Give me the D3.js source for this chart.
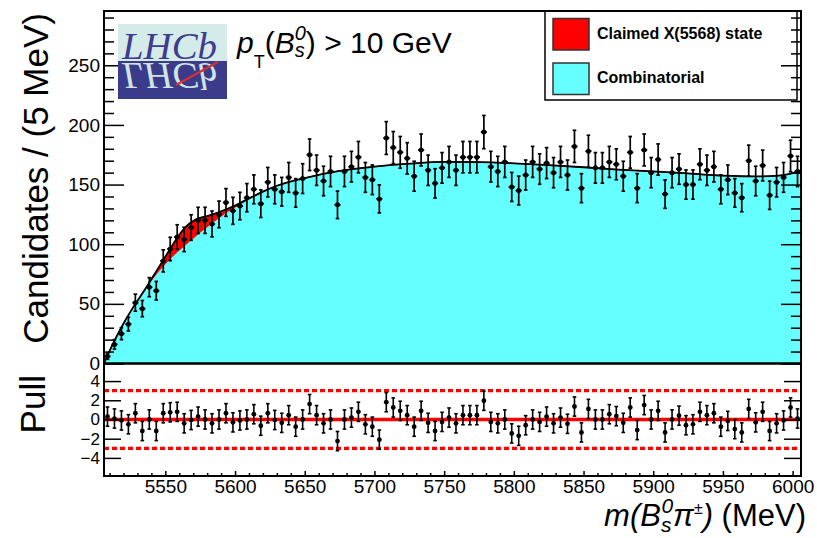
<!DOCTYPE html>
<html>
<head>
<meta charset="utf-8">
<script src="https://cdn.jsdelivr.net/npm/d3@7"></script>
<style>
html, body { margin: 0; padding: 0; background: #fff; }
svg { display: block; font-family: "Liberation Sans", Arial, Helvetica, sans-serif; }
</style>
</head>
<body>
<svg id="chart" width="817" height="538"></svg>
<script>
// Histogram binning of m(Bs pi): 100 bins of 5 MeV
const binLow = 5506;
const binWidth = 5;

// Candidates per 5 MeV bin
const counts = [
  6, 16, 25, 33, 51, 46, 64, 61, 86, 96,
  106, 104, 114, 120, 120, 117, 125, 135, 128, 132,
  139, 146, 134, 152, 146, 144, 156, 143, 155, 175,
  162, 153, 161, 133, 161, 165, 173, 156, 154, 138,
  189, 181, 177, 172, 157, 179, 162, 151, 164, 169,
  162, 173, 173, 173, 194, 165, 161, 169, 148, 145,
  158, 169, 163, 168, 160, 169, 158, 182, 147, 178,
  164, 164, 169, 167, 157, 177, 147, 179, 160, 171,
  142, 160, 163, 150, 150, 167, 162, 165, 146, 154,
  143, 139, 170, 153, 166, 141, 152, 156, 174, 161
];

// Pull of each bin with respect to the fit
const pulls = [
  0.3, 0.1, -0.1, -0.5, 0.65, -1.2, 0, -1.2, 0.65, 0.75,
  0.8, -0.4, -0.05, 0.3, 0, -0.4, 0, 0.65, -0.3, -0.1,
  0, 0.55, -0.65, 0.65, -0.05, -0.35, 0.45, -0.75, 0, 1.6,
  0.45, -0.4, 0, -2.25, 0, 0.2, 0.8, -0.5, -0.75, -2.1,
  1.8, 1.25, 0.9, 0.45, -0.75, 0.9, -0.35, -1.2, -0.25, 0.2,
  -0.4, 0.45, 0.45, 0.45, 1.95, -0.25, -0.4, 0, -1.45, -1.7,
  -0.6, 0, -0.25, 0.3, -0.4, 0.2, -0.45, 1.35, -1.35, 1.1,
  0, 0, 0.55, 0.35, -0.35, 1.25, -1.1, 1.5, 0, 0.9,
  -1.35, 0, 0.4, -0.6, -0.5, 0.8, 0.45, 0.65, -0.75, -0.15,
  -1.0, -1.35, 1.1, -0.3, 0.8, -1.2, -0.4, -0.1, 1.25, 0.1
];

// Fit components sampled in mass (MeV)
const fitMass = [5506, 5510, 5515, 5520, 5525, 5530, 5535, 5540, 5545, 5550,
  5555, 5560, 5565, 5570, 5575, 5580, 5585, 5590, 5595, 5600,
  5610, 5620, 5630, 5650, 5675, 5700, 5725, 5750, 5775, 5800,
  5825, 5850, 5875, 5900, 5925, 5950, 5975, 5990, 6000, 6006];
const combinatorial = [0, 10.5, 22.5, 33.5, 43.5, 52.5, 61, 69.5, 77, 83.5,
  89.5, 95, 100, 105, 110, 114.5, 119, 123.5, 127.5, 131,
  138, 144, 149, 155.5, 161.5, 165, 167.5, 169, 168.8, 167.8,
  166.3, 164.5, 162.5, 161, 159.3, 157.5, 156.8, 157.5, 159.5, 162];
const claimedX = [0, 0, 0, 0, 0, 0, 0.4, 1.3, 3, 6,
  9.5, 13, 15, 14.5, 12, 9, 6.5, 4, 2.3, 1.3,
  0.4, 0.1, 0, 0, 0, 0, 0, 0, 0, 0,
  0, 0, 0, 0, 0, 0, 0, 0, 0, 0];

// Axis ticks
const massTicks = [5550, 5600, 5650, 5700, 5750, 5800, 5850, 5900, 5950, 6000];
const countTicks = [0, 50, 100, 150, 200, 250];
const pullTicks = [4, 2, 0, -2, -4];
const pullBand = 3;

const legendItems = [
  { label: "Claimed X(5568) state", color: "#ff0000" },
  { label: "Combinatorial", color: "#66ffff" }
];

const svg = d3.select("#chart");

const x = d3.scaleLinear().domain([5506, 6006]).range([104, 801]);
const y = d3.scaleLinear().domain([0, 295.5]).range([363.5, 11]);
const yp = d3.scaleLinear().domain([-5.885, 5.83]).range([476, 363.5]);

const fit = fitMass.map((m, i) => ({ m, b: combinatorial[i], s: claimedX[i] }));

svg.append("defs").append("clipPath").attr("id", "upperClip")
  .append("rect").attr("x", 104).attr("y", 11).attr("width", 697).attr("height", 352.5);

const upper = svg.append("g").attr("clip-path", "url(#upperClip)");

// combinatorial component
upper.append("path").datum(fit)
  .attr("fill", "#66ffff")
  .attr("d", d3.area().curve(d3.curveMonotoneX)
    .x(d => x(d.m)).y0(y(0)).y1(d => y(d.b)));

// claimed X(5568) component stacked on top
upper.append("path").datum(fit)
  .attr("fill", "#ff0000")
  .attr("stroke", "#ff0000").attr("stroke-width", 0.8)
  .attr("d", d3.area().curve(d3.curveMonotoneX)
    .x(d => x(d.m)).y0(d => y(d.b)).y1(d => y(d.b + d.s)));

// total fit
upper.append("path").datum(fit)
  .attr("fill", "none").attr("stroke", "#000").attr("stroke-width", 1.8)
  .attr("d", d3.line().curve(d3.curveMonotoneX)
    .x(d => x(d.m)).y(d => y(d.b + d.s)));

// data points with Poisson errors
const bins = counts.map((c, i) => ({
  lo: binLow + i * binWidth,
  mid: binLow + (i + 0.5) * binWidth,
  hi: binLow + (i + 1) * binWidth,
  c, e: Math.sqrt(c), p: pulls[i]
}));

const pts = svg.append("g").attr("stroke", "#000").attr("stroke-width", 1.7);
bins.forEach(d => {
  const cx = x(d.mid), t = y(d.c + d.e), b = y(d.c - d.e);
  pts.append("line").attr("x1", cx).attr("x2", cx).attr("y1", t).attr("y2", b);
  pts.append("line").attr("x1", cx - 1.8).attr("x2", cx + 1.8).attr("y1", t).attr("y2", t);
  pts.append("line").attr("x1", cx - 1.8).attr("x2", cx + 1.8).attr("y1", b).attr("y2", b);
  pts.append("line").attr("x1", x(d.lo) + 0.4).attr("x2", x(d.hi) - 0.4).attr("y1", y(d.c)).attr("y2", y(d.c));
});
pts.selectAll("circle").data(bins).enter().append("circle")
  .attr("cx", d => x(d.mid)).attr("cy", d => y(d.c)).attr("r", 2.5)
  .attr("fill", "#000").attr("stroke", "none");

// pull panel
const pull = svg.append("g");
pull.append("line").attr("x1", 104).attr("x2", 801)
  .attr("y1", yp(0)).attr("y2", yp(0))
  .attr("stroke", "#ff0000").attr("stroke-width", 3.5);
[pullBand, -pullBand].forEach(v => {
  pull.append("line").attr("x1", 104).attr("x2", 801)
    .attr("y1", yp(v)).attr("y2", yp(v))
    .attr("stroke", "#ff0000").attr("stroke-width", 3.2)
    .attr("stroke-dasharray", "5,3");
});
const pp = pull.append("g").attr("stroke", "#000").attr("stroke-width", 1.6);
bins.forEach(d => {
  const cx = x(d.mid), t = yp(d.p + 1), b = yp(d.p - 1);
  pp.append("line").attr("x1", cx).attr("x2", cx).attr("y1", t).attr("y2", b);
  pp.append("line").attr("x1", cx - 1.8).attr("x2", cx + 1.8).attr("y1", t).attr("y2", t);
  pp.append("line").attr("x1", cx - 1.8).attr("x2", cx + 1.8).attr("y1", b).attr("y2", b);
});
pp.selectAll("circle").data(bins).enter().append("circle")
  .attr("cx", d => x(d.mid)).attr("cy", d => yp(d.p)).attr("r", 2.4)
  .attr("fill", "#000").attr("stroke", "none");

// legend
const leg = svg.append("g");
leg.append("rect").attr("x", 545).attr("y", 11).attr("width", 252).attr("height", 89)
  .attr("fill", "#fff").attr("stroke", "#000").attr("stroke-width", 1.5);
legendItems.forEach((it, i) => {
  const yy = 18.5 + i * 44.5;
  leg.append("rect").attr("x", 553).attr("y", yy).attr("width", 36).attr("height", 31.5)
    .attr("fill", it.color).attr("stroke", "#333").attr("stroke-width", 1.5);
  leg.append("text").attr("x", 597).attr("y", yy + 20)
    .attr("font-size", 16).attr("font-weight", "bold").attr("fill", "#000")
    .text(it.label);
});

// axes
function styleAxis(g) {
  g.select(".domain").remove();
  g.selectAll(".tick line").attr("stroke", "#000").attr("stroke-width", 1.5);
  g.selectAll("text").attr("fill", "#000").attr("font-family", "Liberation Sans, Arial, sans-serif");
}
const minorCounts = d3.range(0, 296, 10).filter(v => v % 50 !== 0);
const minorMass = d3.range(5510, 6001, 10).filter(v => v % 50 !== 0);

svg.append("g").attr("transform", "translate(104,0)")
  .call(d3.axisLeft(y).tickValues(countTicks).tickSize(-20).tickPadding(4).tickFormat(d3.format("d")))
  .call(styleAxis).call(g => g.selectAll("text").attr("font-size", 19));
svg.append("g").attr("transform", "translate(104,0)")
  .call(d3.axisLeft(y).tickValues(minorCounts).tickSize(-10).tickFormat(""))
  .call(styleAxis);
svg.append("g").attr("transform", "translate(801,0)")
  .call(d3.axisRight(y).tickValues(countTicks).tickSize(-20).tickFormat(""))
  .call(styleAxis);
svg.append("g").attr("transform", "translate(801,0)")
  .call(d3.axisRight(y).tickValues(minorCounts).tickSize(-10).tickFormat(""))
  .call(styleAxis);

svg.append("g").attr("transform", "translate(104,0)")
  .call(d3.axisLeft(yp).tickValues(pullTicks).tickSize(-17).tickPadding(4)
    .tickFormat(d => d < 0 ? "\u2212" + Math.abs(d) : String(d)))
  .call(styleAxis).call(g => g.selectAll("text").attr("font-size", 17));
svg.append("g").attr("transform", "translate(801,0)")
  .call(d3.axisRight(yp).tickValues(pullTicks).tickSize(-17).tickFormat(""))
  .call(styleAxis);

svg.append("g").attr("transform", "translate(0,476)")
  .call(d3.axisBottom(x).tickValues(massTicks).tickSize(-5).tickPadding(4).tickFormat(d3.format("d")))
  .call(styleAxis).call(g => g.selectAll("text").attr("font-size", 19));
svg.append("g").attr("transform", "translate(0,476)")
  .call(d3.axisBottom(x).tickValues(minorMass).tickSize(-3).tickFormat(""))
  .call(styleAxis);

// frames
svg.append("rect").attr("x", 104).attr("y", 11).attr("width", 697).attr("height", 352.5)
  .attr("fill", "none").attr("stroke", "#000").attr("stroke-width", 2);
svg.append("rect").attr("x", 104).attr("y", 363.5).attr("width", 697).attr("height", 112.5)
  .attr("fill", "none").attr("stroke", "#000").attr("stroke-width", 2);

// LHCb logo
const logo = svg.append("g");
logo.append("clipPath").attr("id", "logoLow")
  .append("rect").attr("x", 118).attr("y", 61).attr("width", 109).attr("height", 38);
logo.append("rect").attr("x", 118).attr("y", 24).attr("width", 109).attr("height", 37).attr("fill", "#d5ebea");
logo.append("rect").attr("x", 118).attr("y", 61).attr("width", 109).attr("height", 38).attr("fill", "#3b3b8b");
logo.append("text").attr("x", 122).attr("y", 59)
  .attr("font-family", "Liberation Serif, Times New Roman, serif").attr("font-style", "italic")
  .attr("font-size", 37).attr("fill", "#3d3c8e")
  .attr("textLength", 95).attr("lengthAdjust", "spacingAndGlyphs").text("LHCb");
logo.append("g").attr("clip-path", "url(#logoLow)")
  .append("text").attr("x", 122).attr("y", 59)
  .attr("transform", "translate(0,122) scale(1,-1)")
  .attr("font-family", "Liberation Serif, Times New Roman, serif").attr("font-style", "italic")
  .attr("font-size", 37).attr("fill", "#cfe4e3")
  .attr("textLength", 95).attr("lengthAdjust", "spacingAndGlyphs").text("LHCb");
logo.append("line").attr("x1", 176).attr("y1", 85).attr("x2", 218).attr("y2", 62)
  .attr("stroke", "#d8302c").attr("stroke-width", 2);

// p_T requirement
const pt = svg.append("text").attr("x", 237).attr("y", 53).attr("font-size", 30).attr("fill", "#000");
pt.append("tspan").attr("font-style", "italic").text("p");
pt.append("tspan").attr("font-size", 18).attr("dy", 15).text("T");
pt.append("tspan").attr("dy", -15).text("(");
pt.append("tspan").attr("font-style", "italic").text("B");
pt.append("tspan").attr("font-style", "italic").attr("font-size", 20).attr("dy", 4).text("s");
pt.append("tspan").attr("font-style", "italic").attr("font-size", 20).attr("dx", -10).attr("dy", -17).text("0");
pt.append("tspan").attr("dy", 13).text(") > 10 GeV");

// axis titles
svg.append("text").attr("transform", "translate(48,13) rotate(-90)")
  .attr("text-anchor", "end").attr("font-size", 35).attr("fill", "#000")
  .text("Candidates / (5 MeV)");
svg.append("text").attr("transform", "translate(45,375) rotate(-90)")
  .attr("text-anchor", "end").attr("font-size", 35).attr("fill", "#000")
  .text("Pull");

const xt = svg.append("text").attr("x", 570).attr("y", 526).attr("font-size", 31).attr("fill", "#000");
xt.append("tspan").attr("font-style", "italic").text("m(B");
xt.append("tspan").attr("font-style", "italic").attr("font-size", 21).attr("dy", 6).text("s");
xt.append("tspan").attr("font-style", "italic").attr("font-size", 21).attr("dx", -10).attr("dy", -19).text("0");
xt.append("tspan").attr("font-style", "italic").attr("dy", 13).text("\u03c0");
xt.append("tspan").attr("font-size", 16).attr("dy", -12).text("\u00b1");
xt.append("tspan").attr("font-style", "italic").attr("dy", 12).text(")");
xt.append("tspan").text(" (MeV)");
const bb = xt.node().getBBox();
xt.attr("x", 570 + (806 - (bb.x + bb.width)));
</script>
</body>
</html>
